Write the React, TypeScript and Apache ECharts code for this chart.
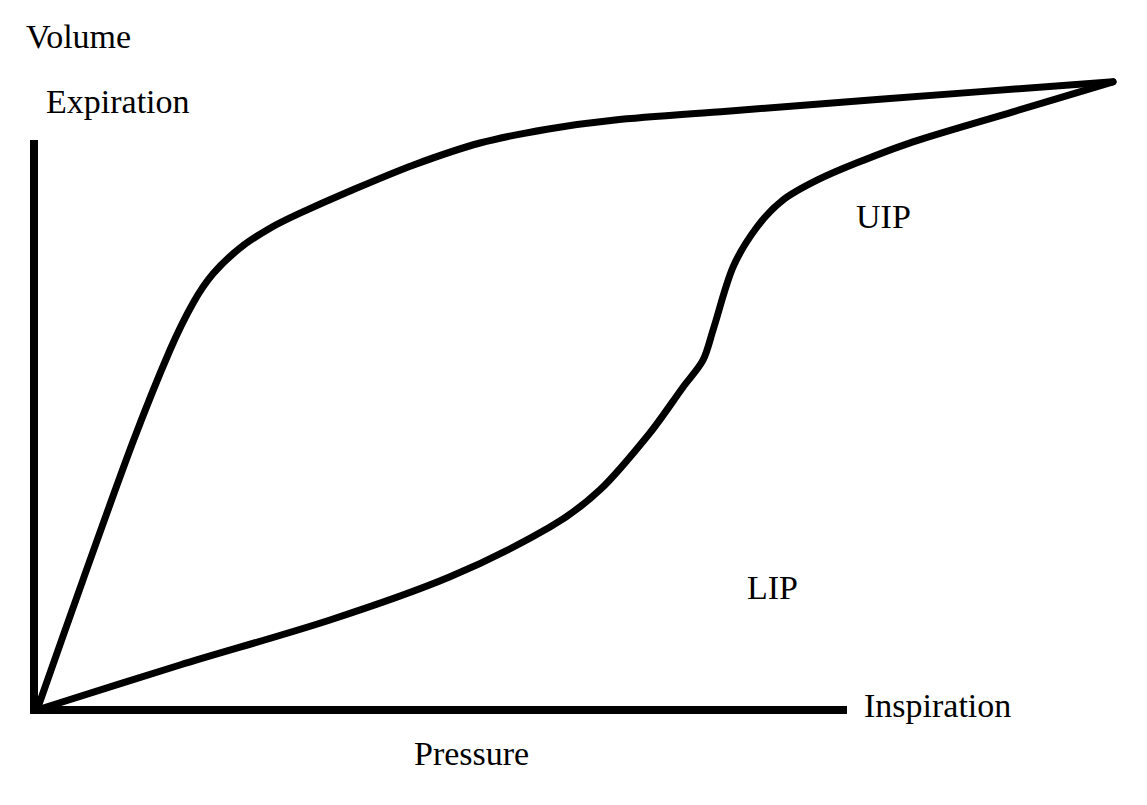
import React, { useEffect, useRef } from "react";
import * as echarts from "echarts";

// Pressure (x) / Volume (y) in arbitrary units
const expirationCurve: [number, number][] = [
  [0.3, 0], [4.9, 21.7], [9.9, 44.7], [13.6, 60], [15.9, 67.8], [17.9, 72.7],
  [20.6, 77], [23.6, 80.3], [26.6, 82.8], [31.6, 86.5], [37.9, 90.8],
  [44.6, 94.5], [51.3, 96.8], [57.9, 98.3], [69.3, 99.8], [84.6, 101.8], [107.9, 104.7],
];

const inspirationCurve: [number, number][] = [
  [0.3, 0], [14.6, 7.5], [29.6, 15], [41.6, 22.2], [51.6, 30.5], [56.6, 36.7],
  [61.6, 46.2], [64.9, 53.8], [66.9, 58.3], [67.9, 63.3], [69.9, 73.8],
  [72.3, 80.5], [74.9, 85], [78.3, 88.3], [82.3, 91.2], [87.9, 94.7],
  [97.9, 99.7], [107.9, 104.7],
];

const axesFrame: [number, number][] = [
  [0, 95], [0, 0], [81.3, 0],
];

const labels = {
  volume: "Volume",
  expiration: "Expiration",
  uip: "UIP",
  lip: "LIP",
  inspiration: "Inspiration",
  pressure: "Pressure",
};

export default function App() {
  const ref = useRef<HTMLDivElement>(null);
  useEffect(() => {
    if (!ref.current) return;
    const chart = echarts.init(ref.current, undefined, { renderer: "svg" });
    const font = { fontFamily: "Liberation Serif", fontSize: 34, fill: "#000" };
    const txt = (text: string, x: number, y: number) => ({
      type: "text",
      left: x,
      top: y,
      style: { ...font, text },
    });
    chart.setOption({
      animation: false,
      backgroundColor: "#fff",
      grid: { left: 34, right: 33, top: 80, bottom: 95 },
      xAxis: { type: "value", min: 0, max: 108, show: false },
      yAxis: { type: "value", min: 0, max: 105, show: false },
      series: [
        {
          type: "line",
          data: axesFrame,
          showSymbol: false,
          lineStyle: { color: "#000", width: 8, join: "miter", cap: "butt" },
        },
        {
          type: "line",
          data: expirationCurve,
          smooth: 0.3,
          showSymbol: false,
          lineStyle: { color: "#000", width: 7, join: "round", cap: "round" },
        },
        {
          type: "line",
          data: inspirationCurve,
          smooth: 0.3,
          showSymbol: false,
          lineStyle: { color: "#000", width: 7, join: "round", cap: "round" },
        },
      ],
      graphic: [
        txt(labels.volume, 26, 19),
        txt(labels.expiration, 46, 84),
        txt(labels.uip, 856, 199),
        txt(labels.lip, 747, 570),
        txt(labels.inspiration, 864, 688),
        txt(labels.pressure, 414, 736),
      ],
    });
    return () => chart.dispose();
  }, []);
  return (
    <div
      ref={ref}
      style={{ position: "absolute", left: 0, top: 0, width: 1147, height: 805 }}
    />
  );
}
